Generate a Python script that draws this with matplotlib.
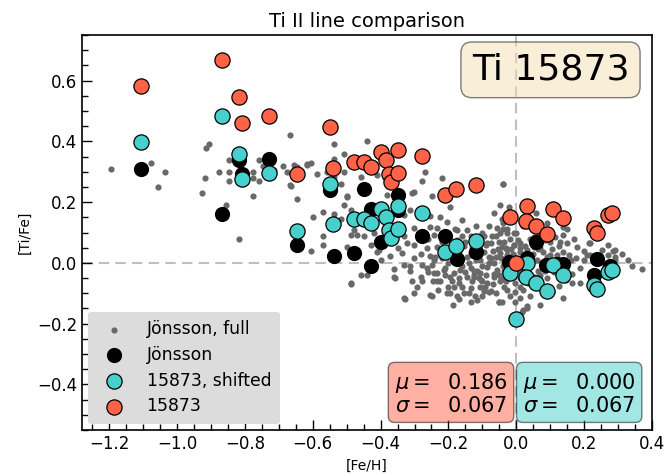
import matplotlib
matplotlib.use("Agg")
import matplotlib.pyplot as plt
import matplotlib.transforms as mtransforms
import numpy as np

# Full Jönsson sample: [Fe/H], [Ti/Fe]
full_feh = [
    -1.196, -1.076, -1.035, -1.056, -0.915, -0.905, -0.917, -0.926, -0.877, -0.846,
    -0.846, -0.846, -0.777, -0.777, -0.758, -0.758, -0.748, -0.777, -0.856, -0.817,
    -0.667, -0.537, -0.508, -0.441, -0.459, -0.498, -0.518, -0.537, -0.588, -0.616,
    -0.606, -0.647, -0.689, -0.714, -0.667, -0.647, -0.569, -0.598, -0.537, -0.516,
    -0.676, -0.655, -0.665, -0.569, -0.569, -0.606, -0.488, -0.488, -0.479, -0.469,
    -0.449, -0.429, -0.459, -0.439, -0.405, -0.380, -0.508, -0.498, -0.488, -0.410,
    -0.410, -0.557, -0.508, -0.537, -0.498, -0.616,
    -0.270, -0.277, -0.219, -0.307, -0.248, -0.194, -0.039, -0.067, -0.042, -0.039,
    -0.027, -0.331, -0.312, -0.253, -0.224, -0.204, -0.253, -0.233, -0.174, -0.160,
    -0.145, -0.135, -0.096, -0.071, -0.057, -0.302, -0.282, -0.243, -0.321, -0.302,
    -0.263, -0.233, -0.371, -0.336, -0.253, -0.219, -0.145, -0.106, -0.076, -0.047,
    -0.008, -0.037, -0.086, -0.111, -0.302,
    -0.361, -0.312, -0.282, -0.243, -0.214, -0.194, -0.165, -0.135, -0.126, -0.106,
    -0.086, -0.067, -0.047, -0.027, -0.096, -0.135, -0.184, -0.204, -0.253, -0.292,
    -0.331, -0.116, -0.052, -0.174, -0.233, -0.488, -0.359, -0.328, -0.307, -0.302,
    -0.248, -0.245, -0.224, -0.194, -0.188, -0.170, -0.153, -0.135, -0.121, -0.081,
    -0.106, -0.052, -0.170, -0.116, -0.184, -0.209, -0.263, -0.277, -0.277, -0.248,
    -0.233, -0.302, -0.331, -0.312, -0.243, -0.165, -0.135, -0.081, -0.067, -0.057,
    -0.126, -0.101, -0.091, -0.076, -0.037, -0.003, 0.021, 0.031, -0.003,
    -0.047, -0.023, 0.059, 0.090, -0.047, -0.027, -0.008, -0.042, -0.027, -0.008,
    0.012, -0.027, 0.012, 0.031, 0.051, 0.078, 0.100, 0.120, 0.139, 0.149,
    0.129, 0.139, 0.137, 0.051, 0.066, 0.213, 0.218, 0.198, 0.188, 0.291,
    0.291, 0.330, 0.370, 0.252, 0.269, -0.037, 0.012, 0.012, 0.031, 0.071,
    0.139, 0.188, 0.164, -0.042, 0.017, 0.041, 0.095, 0.178, 0.208, 0.218,
    0.286, 0.291, -0.039,
    -0.19, -0.17, -0.15, -0.13, -0.11, -0.09, -0.07, -0.05, -0.03, -0.01,
    0.01, 0.03, 0.05, 0.07, 0.09,
    -0.20, -0.18, -0.16, -0.14, -0.12, -0.10, -0.08, -0.06, -0.04, -0.02,
    0.00, 0.02, 0.04, 0.06, 0.08, 0.10, 0.12, 0.16,
    -0.21, -0.19, -0.17, -0.15, -0.13, -0.11, -0.09, -0.07, -0.05, -0.03,
    -0.01, 0.01, 0.03, 0.05, 0.07, 0.09, 0.11,
    -0.20, -0.18, -0.16, -0.12, -0.10, -0.08, -0.06, -0.04, -0.02, 0.00,
    0.02, 0.04, 0.08, 0.10,
    -0.26, -0.28, -0.24, -0.22, -0.26, -0.23, -0.20, -0.16, -0.14, -0.10,
    -0.06, -0.02, 0.02, 0.06,
    -0.35, -0.38, -0.34, -0.40, -0.42, -0.36, -0.33,
    -0.045, -0.035, -0.015, 0.005, 0.025, 0.045, 0.065, 0.085, 0.105, 0.115,
    0.125, 0.155, 0.175, 0.165, 0.145, 0.125, 0.105, 0.085, 0.065,
    -0.115, -0.095, -0.075, -0.055, -0.135, -0.155, -0.175, -0.185, -0.145, -0.125,
    -0.105, -0.085, -0.065, -0.045, -0.025, -0.005, 0.015, 0.035, 0.055,
    0.22, 0.24, 0.26, 0.20, 0.17, 0.15, 0.23, 0.27, 0.31, 0.34,
]
full_tife = [
    0.310, 0.330, 0.299, 0.250, 0.379, 0.390, 0.280, 0.230, 0.299, 0.340,
    0.299, 0.270, 0.299, 0.281, 0.340, 0.270, 0.318, 0.221, 0.191, 0.080,
    0.420, 0.390, 0.360, 0.401, 0.283, 0.221, 0.261, 0.343, 0.292, 0.321,
    0.329, 0.316, 0.319, 0.305, 0.256, 0.212, 0.168, 0.150, 0.161, 0.143,
    0.299, 0.321, 0.252, 0.089, 0.059, 0.040, 0.174, 0.092, 0.108, 0.092,
    0.089, 0.059, -0.039, -0.039, 0.043, 0.223, 0.190, 0.053, -0.067, 0.037,
    0.289, 0.299, 0.299, 0.283, 0.217, 0.327,
    0.299, 0.270, 0.280, 0.230, 0.220, 0.183, 0.261, 0.163, 0.146, 0.130,
    0.110, 0.157, 0.174, 0.154, 0.150, 0.135, 0.119, 0.114, 0.108, 0.141,
    0.108, 0.089, 0.089, 0.089, 0.114, 0.114, 0.097, 0.092, 0.064, 0.059,
    0.048, 0.053, 0.023, 0.032, 0.023, 0.015, 0.021, 0.010, 0.015, 0.032,
    0.059, 0.070, 0.064, 0.048, 0.234,
    -0.045, -0.028, -0.045, -0.034, -0.023, -0.045, -0.023, -0.018, -0.045, -0.034,
    -0.067, -0.045, -0.061, -0.089, -0.094, -0.083, -0.078, -0.099, -0.105, -0.078,
    -0.116, -0.121, -0.127, -0.110, -0.061, -0.069, -0.050, -0.119, -0.061, -0.099,
    -0.108, -0.061, -0.061, -0.099, -0.138, -0.119, -0.099, -0.130, -0.110, -0.097,
    -0.078, -0.130, -0.067, -0.028, -0.034, -0.018, -0.018, -0.061, -0.007, -0.007,
    -0.034, 0.015, -0.007, -0.010, 0.010, 0.015, 0.026, 0.021, -0.001, -0.023,
    -0.039, -0.061, -0.080, -0.094, -0.050, -0.097, -0.154, -0.143, -0.127,
    0.190, 0.185, 0.163, 0.132, 0.097, 0.097, 0.097, 0.053, 0.043, 0.059,
    0.064, 0.026, 0.037, 0.043, 0.053, 0.037, 0.026, 0.026, 0.037, 0.064,
    0.070, 0.092, 0.119, 0.086, 0.097, 0.064, 0.026, 0.010, -0.018, 0.043,
    0.021, 0.010, -0.021, 0.043, 0.026, -0.078, -0.078, -0.116, -0.149, -0.138,
    -0.116, -0.067, -0.067, -0.127, -0.160, -0.110, -0.083, 0.053, 0.026, 0.064,
    0.040, 0.010, 0.261,
    0.06, 0.04, 0.07, 0.05, 0.03, 0.06, 0.04, 0.07, 0.05, 0.03,
    0.05, 0.02, 0.03, 0.05, 0.02,
    0.00, 0.02, -0.01, 0.00, 0.01, -0.01, 0.00, 0.02, -0.01, 0.01,
    -0.02, 0.00, -0.01, 0.01, -0.02, 0.00, -0.01, 0.01,
    -0.04, -0.06, -0.05, -0.03, -0.06, -0.05, -0.04, -0.07, -0.04, -0.06,
    -0.04, -0.05, -0.03, -0.06, -0.04, -0.05, -0.03,
    0.09, 0.11, 0.09, 0.12, 0.10, 0.12, 0.09, 0.11, 0.08, 0.10,
    0.12, 0.08, 0.10, 0.07,
    0.08, 0.03, 0.02, 0.07, -0.03, -0.09, -0.08, -0.08, -0.10, -0.11,
    -0.10, -0.11, -0.09, -0.08,
    0.05, 0.08, 0.12, 0.01, 0.10, -0.02, 0.09,
    0.015, -0.025, 0.045, 0.075, 0.055, 0.065, 0.045, 0.075, 0.045, 0.085,
    0.055, 0.025, 0.015, -0.035, -0.055, -0.075, -0.095, -0.025, -0.025,
    0.075, 0.035, 0.065, 0.045, 0.035, 0.055, 0.075, 0.035, -0.045, -0.025,
    -0.055, -0.015, -0.035, -0.055, -0.035, -0.065, -0.025, -0.065, -0.045,
    -0.03, 0.02, -0.01, 0.04, 0.08, 0.11, 0.09, 0.06, 0.03, -0.01,
]

# Jönsson values for the stars in common
jon_feh = [
    -1.106, -0.867, -0.817, -0.807, -0.729, -0.647, -0.550, -0.538, -0.479, -0.449,
    -0.429, -0.400, -0.427, -0.349, -0.349, -0.277, -0.209, -0.176, -0.120, -0.021,
    0.031, 0.059, 0.088, 0.139, 0.239, 0.230, 0.120, 0.275,
]
jon_tife = [
    0.309, 0.160, 0.338, 0.294, 0.343, 0.059, 0.239, 0.023, 0.032, 0.242,
    0.176, 0.070, -0.010, 0.223, 0.174, 0.089, 0.089, 0.012, 0.037, 0.003,
    0.015, 0.070, -0.007, -0.005, 0.012, -0.039, -0.002, -0.010,
]

# Ti II 15873 line: [Fe/H], [Ti/Fe] and the mean-shifted [Ti/Fe]
line_feh = [
    -1.106, -0.867, -0.817, -0.807, -0.729, -0.647, -0.550, -0.539, -0.479, -0.449,
    -0.429, -0.400, -0.385, -0.374, -0.370, -0.348, -0.279, -0.349, -0.209, -0.179,
    -0.120, -0.020, -0.002, 0.031, 0.108, 0.029, 0.139, 0.059, 0.090, 0.230,
    0.239, 0.269, 0.281,
]
line_tife = [
    0.583, 0.668, 0.545, 0.462, 0.482, 0.292, 0.447, 0.314, 0.332, 0.332,
    0.316, 0.365, 0.338, 0.294, 0.267, 0.373, 0.351, 0.296, 0.223, 0.242,
    0.258, 0.152, 0.001, 0.187, 0.179, 0.139, 0.147, 0.121, 0.095, 0.114,
    0.099, 0.157, 0.163,
]
shifted_tife = [
    0.397, 0.482, 0.359, 0.276, 0.296, 0.106, 0.261, 0.128, 0.146, 0.146,
    0.130, 0.179, 0.152, 0.108, 0.081, 0.187, 0.165, 0.110, 0.037, 0.056,
    0.072, -0.034, -0.185, 0.001, -0.007, -0.047, -0.039, -0.065, -0.091, -0.072,
    -0.087, -0.029, -0.023,
]

line_name = "Ti 15873"
stats_raw = (0.186, 0.067)
stats_shifted = (0.000, 0.067)

fig = plt.figure(figsize=(6.64, 4.75), dpi=100)
ax = fig.add_axes([0.1235, 0.0947, 0.8585, 0.8315])

ax.axhline(0, color="gray", ls="--", lw=1.5, alpha=0.5, zorder=1, dashes=(5, 3))
ax.axvline(0, color="gray", ls="--", lw=1.5, alpha=0.5, zorder=1, dashes=(5, 3))

ax.scatter(full_feh, full_tife, s=20, color="dimgray", lw=0, label="Jönsson, full", zorder=2)
ax.scatter(jon_feh, jon_tife, s=120, color="black", lw=0, label="Jönsson", zorder=3)
ax.scatter(line_feh, shifted_tife, s=120, color="mediumturquoise", edgecolor="black",
           lw=0.9, label="15873, shifted", zorder=4)
ax.scatter(line_feh, line_tife, s=120, color="tomato", edgecolor="black",
           lw=0.9, label="15873", zorder=5)

ax.set_xlim(-1.28, 0.4)
ax.set_ylim(-0.55, 0.75)
ax.set_xticks(np.arange(-1.2, 0.41, 0.2))
ax.set_yticks(np.arange(-0.4, 0.61, 0.2))
ax.set_xticks(np.arange(-1.25, 0.41, 0.05), minor=True)
ax.set_yticks(np.arange(-0.55, 0.751, 0.05), minor=True)
ax.tick_params(which="both", direction="in", top=False, right=False, labelsize=12)
ax.tick_params(which="major", length=7, width=1)
ax.tick_params(which="minor", length=4, width=1)
for sp in ax.spines.values():
    sp.set_linewidth(1.2)

ax.set_xlabel("[Fe/H]", fontsize=10)
ax.set_ylabel("[Ti/Fe]", fontsize=10)
ax.set_title("Ti II line comparison", fontsize=14)

leg = ax.legend(loc="lower left", fontsize=12.4, frameon=True, facecolor="#dcdcdc",
                edgecolor="none", framealpha=1, handletextpad=0.9, borderpad=0.5,
                labelspacing=0.45, borderaxespad=0.35)

ax.text(0.96, 0.955, line_name, transform=ax.transAxes, ha="right", va="top",
        fontsize=26,
        bbox=dict(boxstyle="round,pad=0.3", facecolor="wheat", alpha=0.5, edgecolor="black"))

trans = mtransforms.blended_transform_factory(ax.transData, ax.transAxes)
ax.text(-0.026, 0.035, "$\\mu = $ %6.3f\n$\\sigma = $ %6.3f" % stats_raw,
        transform=trans, ha="right", va="bottom", fontsize=15, linespacing=1.1,
        bbox=dict(boxstyle="round,pad=0.3", facecolor="tomato", alpha=0.5, edgecolor="black"))
ax.text(0.019, 0.035, "$\\mu = $ %6.3f\n$\\sigma = $ %6.3f" % stats_shifted,
        transform=trans, ha="left", va="bottom", fontsize=15, linespacing=1.1,
        bbox=dict(boxstyle="round,pad=0.3", facecolor="mediumturquoise", alpha=0.5,
                  edgecolor="black"))

fig.savefig("out.png", dpi=100)
